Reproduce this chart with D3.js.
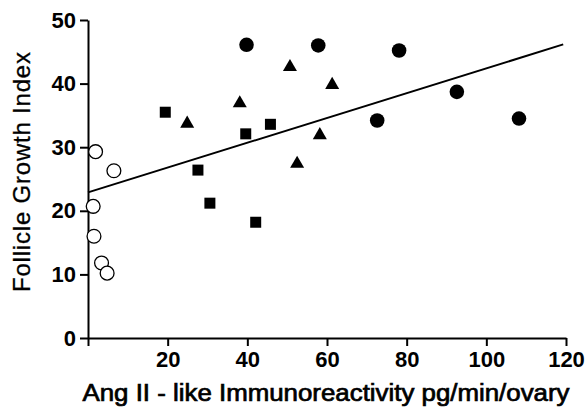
<!DOCTYPE html>
<html>
<head>
<meta charset="utf-8">
<script src="https://cdn.jsdelivr.net/npm/d3@7"></script>
<style>
  body { margin: 0; background: #fff; }
  svg { display: block; font-family: 'Liberation Sans', Arial, Helvetica, sans-serif; }
  .axis path, .axis line { stroke: #000; stroke-width: 2; }
  .axis text { fill: #000; font-size: 22px; font-weight: bold; }
</style>
</head>
<body>
<div class="chart"></div>
<script>
/* Chart values
--------------------------------------------------- */
const xTicks = [0, 20, 40, 60, 80, 100, 120];
const yTicks = [0, 10, 20, 30, 40, 50];

// open circles
const openX = [1.9, 6.5, 1.3, 1.5, 3.4, 4.8];
const openY = [29.3, 26.3, 20.7, 16.0, 11.8, 10.2];

// filled squares
const squareX = [19.4, 27.6, 30.6, 39.6, 42.1, 45.8];
const squareY = [35.5, 26.4, 21.2, 32.1, 18.2, 33.6];

// filled triangles
const triangleX = [24.9, 38.1, 50.7, 52.5, 58.2, 61.3];
const triangleY = [33.7, 36.9, 42.6, 27.4, 31.9, 39.8];

// filled circles
const dotX = [39.8, 57.8, 72.6, 78.1, 92.6, 108.2];
const dotY = [46.1, 46.0, 34.2, 45.2, 38.7, 34.5];

// regression line
const fitIntercept = 22.9;
const fitSlope = 0.195;
const fitRange = [0, 119.3];

/* Draw the chart
--------------------------------------------------- */
const width = 587;
const height = 407;
const margin = { top: 20, right: 21, bottom: 69, left: 88 };

const x = d3.scaleLinear().domain([0, 120]).range([margin.left, width - margin.right]);
const y = d3.scaleLinear().domain([0, 50]).range([height - margin.bottom, margin.top]);

const svg = d3
  .select('.chart')
  .append('svg')
  .attr('width', width)
  .attr('height', height);

svg.append('rect').attr('width', width).attr('height', height).attr('fill', '#fff');

svg
  .append('g')
  .attr('class', 'axis')
  .attr('transform', `translate(0,${y(0)})`)
  .call(
    d3
      .axisBottom(x)
      .tickValues(xTicks)
      .tickSize(8)
      .tickSizeOuter(0)
      .tickPadding(5)
      .tickFormat(d => (d === 0 ? '' : d)),
  );

svg
  .append('g')
  .attr('class', 'axis')
  .attr('transform', `translate(${x(0)},0)`)
  .call(
    d3
      .axisLeft(y)
      .tickValues(yTicks)
      .tickSize(8)
      .tickSizeOuter(0)
      .tickPadding(4),
  );

// regression line
svg
  .append('line')
  .attr('x1', x(fitRange[0]))
  .attr('y1', y(fitIntercept + fitSlope * fitRange[0]))
  .attr('x2', x(fitRange[1]))
  .attr('y2', y(fitIntercept + fitSlope * fitRange[1]))
  .attr('stroke', '#000')
  .attr('stroke-width', 2);

function drawGroup(xs, ys, type, size, fill, stroke) {
  const points = xs.map((v, i) => ({ x: v, y: ys[i] }));
  svg
    .append('g')
    .selectAll('path')
    .data(points)
    .enter()
    .append('path')
    .attr('transform', d => `translate(${x(d.x)},${y(d.y)})`)
    .attr('d', d3.symbol().type(type).size(size))
    .attr('fill', fill)
    .attr('stroke', stroke)
    .attr('stroke-width', 1.3);
}

drawGroup(openX, openY, d3.symbolCircle, 150, '#fff', '#000');
drawGroup(squareX, squareY, d3.symbolSquare, 121, '#000', 'none');
drawGroup(triangleX, triangleY, d3.symbolTriangle, 85, '#000', 'none');
drawGroup(dotX, dotY, d3.symbolCircle, 167, '#000', 'none');

// axis titles
svg
  .append('text')
  .attr('x', 326)
  .attr('y', 401)
  .attr('text-anchor', 'middle')
  .attr('font-size', 23)
  .attr('fill', '#000')
  .attr('stroke', '#000')
  .attr('stroke-width', 0.7)
  .attr('textLength', 487)
  .attr('lengthAdjust', 'spacingAndGlyphs')
  .text('Ang II - like Immunoreactivity pg/min/ovary');

svg
  .append('text')
  .attr('transform', 'translate(30,172) rotate(-90)')
  .attr('text-anchor', 'middle')
  .attr('font-size', 24)
  .attr('fill', '#000')
  .attr('stroke', '#000')
  .attr('stroke-width', 0.3)
  .attr('textLength', 240)
  .attr('lengthAdjust', 'spacing')
  .text('Follicle Growth Index');
</script>
</body>
</html>
